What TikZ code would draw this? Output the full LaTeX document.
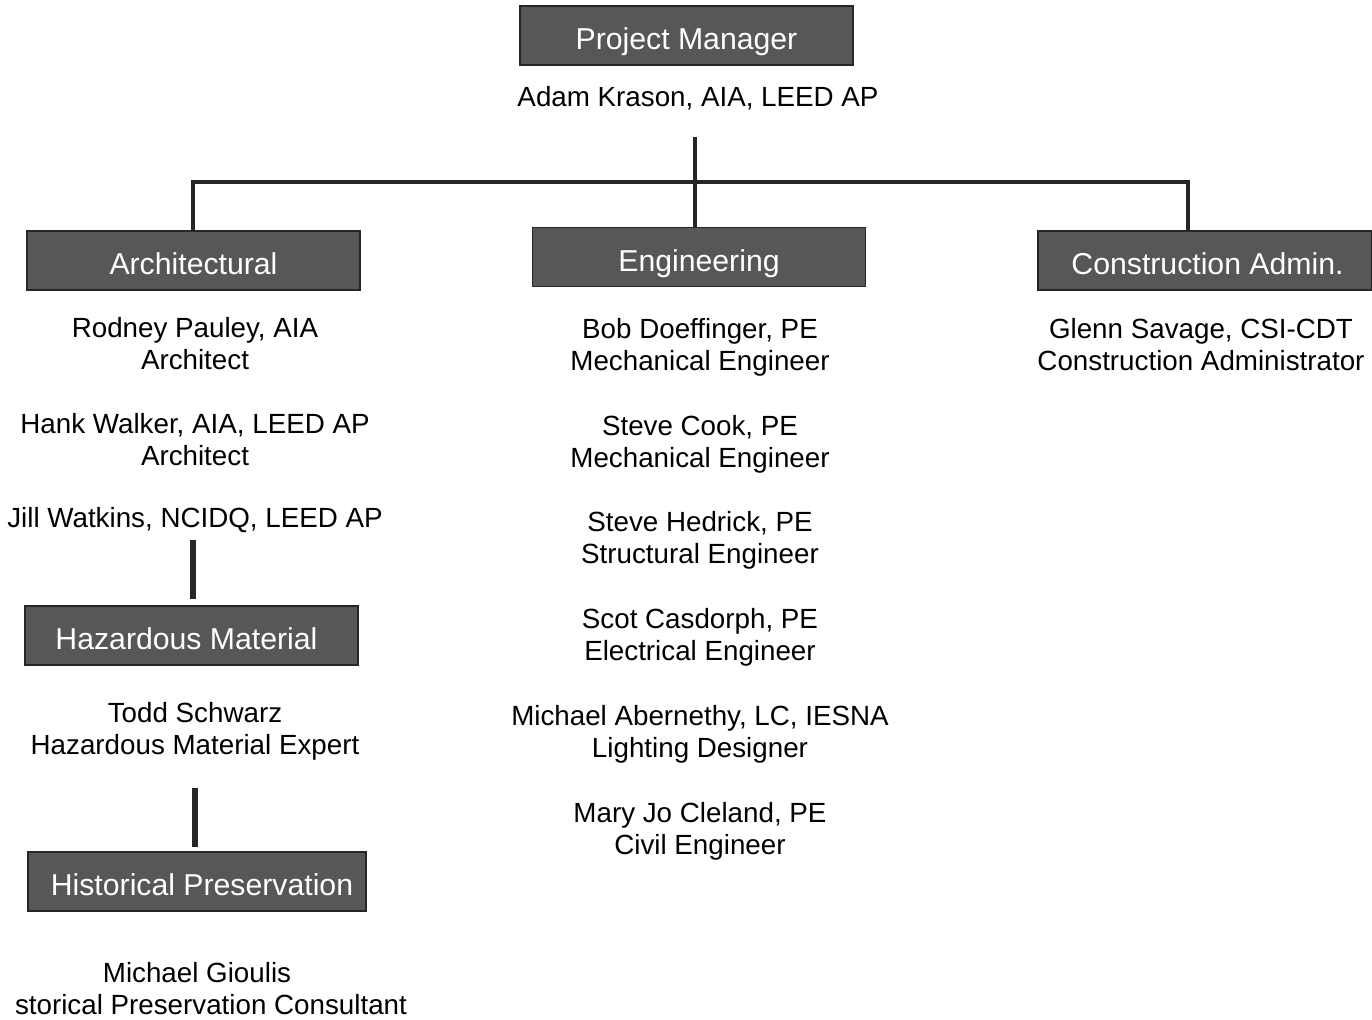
\documentclass[tikz,border=0pt]{standalone}
\usepackage{fontspec}
\setmainfont{Liberation Sans}
\usepackage{tikz}

\tikzset{
  headbox/.style={draw=black!85, line width=0.8pt, fill=black!66, text=white,
    minimum width=6.66cm, minimum height=1.18cm, inner sep=0pt,
    text height=0.57cm, text depth=0pt,
    font=\fontsize{17.2}{20}\selectfont},
  staff/.style={align=center, inner sep=0pt, font=\fontsize{15.8}{18.2}\selectfont},
  conn/.style={line width=2.2pt, black!85}
}

\begin{document}
\begin{tikzpicture}[x=0.02cm, y=-0.02cm]
\useasboundingbox (0,0) rectangle (1372,1020);
% boxes
\node[headbox] (pm) at (686.5,35.5) {Project Manager};
\node[headbox] (arch) at (193.5,260.5) {Architectural};
\node[headbox] (eng) at (699,257) {Engineering};
\node[headbox, minimum width=6.68cm] (ca) at (1205,260.5) {\hspace{0.1cm}Construction Admin.};
\node[headbox] (haz) at (191.5,635.5) {\hspace{-0.2cm}Hazardous Material};
\node[headbox, minimum width=6.76cm] (hist) at (197,881.5) {\hspace{0.2cm}Historical Preservation};

% people
\node[staff] (pmname) at (698,98) {Adam Krason, AIA, LEED AP};

\node[staff] (rodney) at (195,344) {Rodney Pauley, AIA\\Architect};
\node[staff] (hank) at (195,440) {Hank Walker, AIA, LEED AP\\Architect};
\node[staff] (jill) at (195,520) {Jill Watkins, NCIDQ, LEED AP};
\node[staff] (todd) at (195,731) {Todd Schwarz\\Hazardous Material Expert};
\node[staff] (michaelg) at (204,989) {\hspace{-0.28cm}Michael Gioulis\\\hspace{0.28cm}storical Preservation Consultant};

\node[staff] (bob) at (700,347) {Bob Doeffinger, PE\\Mechanical Engineer};
\node[staff] (cook) at (700,444) {Steve Cook, PE\\Mechanical Engineer};
\node[staff] (hedrick) at (700,540) {Steve Hedrick, PE\\Structural Engineer};
\node[staff] (scot) at (700,637) {Scot Casdorph, PE\\Electrical Engineer};
\node[staff] (abernethy) at (700,734) {Michael Abernethy, LC, IESNA\\Lighting Designer};
\node[staff] (mary) at (700,831) {Mary Jo Cleland, PE\\Civil Engineer};

\node[staff] (glenn) at (1201,345) {Glenn Savage, CSI-CDT\\Construction Administrator};

% connectors
\coordinate (pmtop) at (695,137);
\coordinate (busL) at (193,182);
\coordinate (busR) at (1188,182);
\coordinate (jillgap) at (193,540);
\coordinate (toddgap) at (195,788);
\draw[conn] (pmtop) -- (pmtop |- eng.north);
\draw[conn] (busL |- arch.north) -- (busL) -- (busR) -- (busR |- ca.north);
\draw[conn, line width=3pt, shorten >=0.12cm] (jillgap) -- (jillgap |- haz.north);
\draw[conn, line width=3pt, shorten >=0.08cm] (toddgap) -- (toddgap |- hist.north);
\end{tikzpicture}
\end{document}
